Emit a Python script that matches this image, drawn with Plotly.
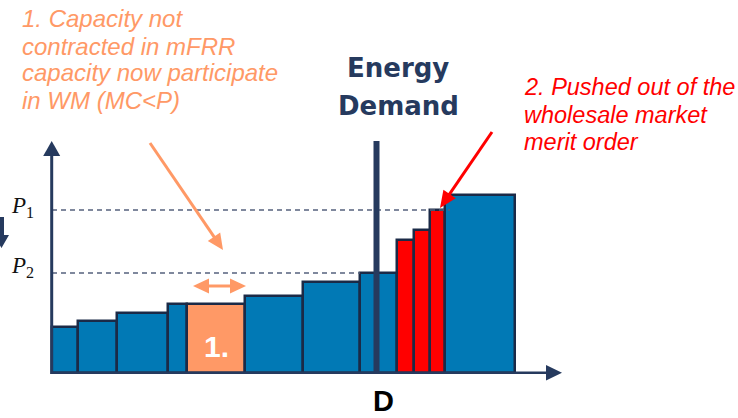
import math
import plotly.graph_objects as go

# Merit-order supply stack: capacity block widths and marginal-cost heights
widths = [26, 39, 51, 19, 58, 58, 57, 37, 17, 16, 15, 70]
prices = [46, 52, 60, 69, 69, 77, 91, 100, 133, 143, 163, 178]
roles = ["base", "base", "base", "base", "mfrr", "base", "base", "base",
         "pushed", "pushed", "pushed", "base"]

demand_q = 324.5      # energy demand D
p1 = 163              # clearing price P1
p2 = 100              # clearing price P2
p1_extent = 398       # how far the P1 guide runs
p2_extent = 308       # how far the P2 guide runs

W, H = 738, 418
NAVY = "#263A5E"
OUTLINE = "#1B2A47"
BLUE = "#0179B5"
ORANGE = "#FF9966"
RED = "#FF0000"
fill = {"base": BLUE, "mfrr": ORANGE, "pushed": RED}

# bar centres from cumulative widths
centers, left = [], 0
for w in widths:
    centers.append(left + w / 2)
    left += w


def X(px):
    return px / W


def Y(py):
    return 1 - py / H


def arrow(x0, y0, x1, y1, color, width=3, head_len=16, head_w=15, both=False):
    """Straight arrow in page pixels: a shaft plus filled triangular heads."""
    dx, dy = x1 - x0, y1 - y0
    n = math.hypot(dx, dy)
    ux, uy = dx / n, dy / n
    px_, py_ = -uy, ux

    def head(tx, ty, sx, sy):
        bx, by = tx - sx * head_len, ty - sy * head_len
        a = (bx + px_ * head_w / 2, by + py_ * head_w / 2)
        b = (bx - px_ * head_w / 2, by - py_ * head_w / 2)
        return dict(type="path", xref="paper", yref="paper", fillcolor=color,
                    line_width=0,
                    path=f"M {X(tx)} {Y(ty)} L {X(a[0])} {Y(a[1])} L {X(b[0])} {Y(b[1])} Z")

    sx0 = x0 + ux * (head_len - 2) if both else x0
    sy0 = y0 + uy * (head_len - 2) if both else y0
    out = [dict(type="line", xref="paper", yref="paper",
                x0=X(sx0), y0=Y(sy0),
                x1=X(x1 - ux * (head_len - 2)), y1=Y(y1 - uy * (head_len - 2)),
                line=dict(color=color, width=width)),
           head(x1, y1, ux, uy)]
    if both:
        out.append(head(x0, y0, -ux, -uy))
    return out


fig = go.Figure(go.Bar(
    x=centers, y=prices, width=widths,
    marker=dict(color=[fill[r] for r in roles],
                line=dict(color=OUTLINE, width=2.5)),
    hoverinfo="skip",
))

shapes = [
    # price guides
    dict(type="line", xref="x", yref="y", x0=0, x1=p1_extent, y0=p1, y1=p1,
         line=dict(color="#56627E", width=1.5, dash="5px,4px")),
    dict(type="line", xref="x", yref="y", x0=0, x1=p2_extent, y0=p2, y1=p2,
         line=dict(color="#56627E", width=1.5, dash="5px,4px")),
    # demand line
    dict(type="line", xref="x", yref="y", x0=demand_q, x1=demand_q, y0=0, y1=232,
         line=dict(color=NAVY, width=6)),
    # y axis with arrow head
    dict(type="line", xref="paper", yref="paper", x0=X(51.7), x1=X(51.7),
         y0=Y(374), y1=Y(153), line=dict(color=NAVY, width=3)),
    dict(type="path", xref="paper", yref="paper", fillcolor=NAVY, line_width=0,
         path=f"M {X(43.2)} {Y(156)} L {X(60.2)} {Y(156)} L {X(51.7)} {Y(141)} Z"),
    # x axis with arrow head
    dict(type="line", xref="paper", yref="paper", x0=X(51), x1=X(548),
         y0=Y(372.8), y1=Y(372.8), line=dict(color=NAVY, width=2.5)),
    dict(type="path", xref="paper", yref="paper", fillcolor=NAVY, line_width=0,
         path=f"M {X(546)} {Y(365)} L {X(546)} {Y(380.5)} L {X(562)} {Y(372.8)} Z"),
    # small downward arrow at the left edge
    dict(type="path", xref="paper", yref="paper", fillcolor=NAVY, line_width=0,
         path=(f"M {X(-2)} {Y(217)} L {X(4)} {Y(217)} L {X(4)} {Y(235)} "
               f"L {X(9)} {Y(235)} L {X(1.5)} {Y(248)} L {X(-6)} {Y(235)} "
               f"L {X(-2)} {Y(235)} Z")),
]

# pointer arrows
shapes += arrow(150, 143, 223, 250, ORANGE, width=3, head_len=16, head_w=15)
shapes += arrow(193, 286, 246, 286, ORANGE, width=3, head_len=16, head_w=15, both=True)
shapes += arrow(492, 132, 440, 208, RED, width=3, head_len=17, head_w=15)

ann = []


def text(s, px, py, size, color, family="Liberation Sans", xanchor="left"):
    ann.append(dict(text=s, x=X(px), y=Y(py), xref="paper", yref="paper",
                    xanchor=xanchor, yanchor="middle", showarrow=False,
                    font=dict(size=size, color=color, family=family)))


for i, line in enumerate(["1. Capacity not", "contracted in mFRR",
                          "capacity now participate", "in WM (MC&lt;P)"]):
    text(f"<i>{line}</i>", 20, 19 + i * 27, 24, ORANGE)

for i, line in enumerate(["2. Pushed out of the", "wholesale market", "merit order"]):
    text(f"<i>{line}</i>", 522, 87 + i * 27.5, 23.5, RED)

text("<b>Energy</b>", 398, 68, 26, NAVY, family="DejaVu Sans", xanchor="center")
text("<b>Demand</b>", 398, 106, 26, NAVY, family="DejaVu Sans", xanchor="center")
text("<b>D</b>", 383, 401, 29, "#000000", xanchor="center")
text("<i>P</i><sub>1</sub>", 22, 207, 23, "#111111", family="Liberation Serif", xanchor="center")
text("<i>P</i><sub>2</sub>", 22, 267, 23, "#111111", family="Liberation Serif", xanchor="center")

# label inside the mFRR block
ann.append(dict(text="<b>1.</b>", x=centers[4], y=prices[4] / 2 - 8,
                xref="x", yref="y", showarrow=False,
                font=dict(size=30, color="white", family="Liberation Sans")))

fig.update_layout(
    width=W, height=H, margin=dict(l=0, r=0, t=0, b=0),
    paper_bgcolor="white", plot_bgcolor="white",
    showlegend=False, bargap=0,
    xaxis=dict(range=[-52, 686], visible=False, fixedrange=True),
    yaxis=dict(range=[-45, 373], visible=False, fixedrange=True),
    shapes=shapes, annotations=ann,
)

fig.write_html("out.html", config={"displayModeBar": False})
